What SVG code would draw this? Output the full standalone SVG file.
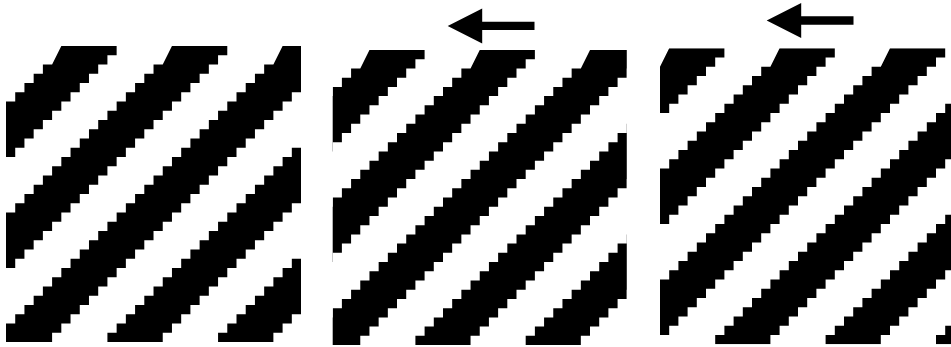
<svg xmlns="http://www.w3.org/2000/svg" xmlns:xlink="http://www.w3.org/1999/xlink" width="951" height="347" viewBox="0 0 951 347">
  <style>
    .band { fill: #000; }
    .arrow { fill: #000; }
  </style>
  <defs>
    <clipPath id="cell32" clipPathUnits="userSpaceOnUse">
      <rect x="0" y="0" width="32" height="32"/>
    </clipPath>
    <path id="band" d="M0,0h6v1h-1v1h-1v1h-1v1h-1v1h-1v1h-1v1h-1v1h-1v1h-1v1h-1v1h-1v1h-1v1h-1v1h-1v1h-1v1h-1v1h-1v1h-1v1h-1v1h-1v1h-1v1h-1v1h-1v1h-1v1h-1v1h-1v1h-1v1h-1v1h-1v1h-1v1h-1v1h-6v-1h1v-1h1v-1h1v-1h1v-1h1v-1h1v-1h1v-1h1v-1h1v-1h1v-1h1v-1h1v-1h1v-1h1v-1h1v-1h1v-1h1v-1h1v-1h1v-1h1v-1h1v-1h1v-1h1v-1h1v-1h1v-1h1v-1h1v-1h1v-1h1v-1h1z"/>
    <path id="arrowShape" d="M0,0L34.5,-17.5L34.5,-4.2L86.8,-4.2L86.8,4.2L34.5,4.2L34.5,17.5Z"/>
  </defs>
  <rect x="0" y="0" width="951" height="347" fill="#fff"/>

  <g id="panel1" transform="translate(6,46) scale(9.22,9.25)">
    <g clip-path="url(#cell32)" class="band">
      <use href="#band" x="6"/>
      <use href="#band" x="18"/>
      <use href="#band" x="30"/>
      <use href="#band" x="42"/>
      <use href="#band" x="54"/>
    </g>
  </g>

  <g id="panel2" transform="translate(332.7,50) scale(9.19,9.22)">
    <g clip-path="url(#cell32)" class="band">
      <use href="#band" x="4"/>
      <use href="#band" x="16"/>
      <use href="#band" x="28"/>
      <use href="#band" x="40"/>
      <use href="#band" x="52"/>
    </g>
  </g>

  <g id="panel3" transform="translate(660,48.3) scale(9.2,9.25)">
    <g clip-path="url(#cell32)" class="band">
      <use href="#band" x="1"/>
      <use href="#band" x="13"/>
      <use href="#band" x="25"/>
      <use href="#band" x="37"/>
      <use href="#band" x="49"/>
      <use href="#band" x="61"/>
    </g>
  </g>

  <g id="arrows" class="arrow">
    <use href="#arrowShape" transform="translate(447.7,25.9)"/>
    <use href="#arrowShape" transform="translate(766.7,20.5)"/>
  </g>
</svg>
